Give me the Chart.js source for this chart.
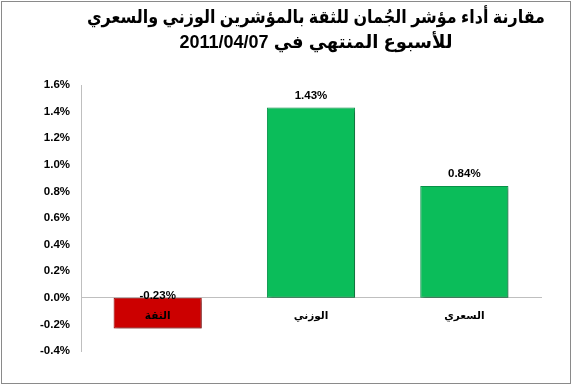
<!DOCTYPE html>
<html>
<head>
<meta charset="utf-8">
<script src="https://cdn.jsdelivr.net/npm/chart.js@4.4.0/dist/chart.umd.min.js"></script>
<style>
  html, body { margin: 0; padding: 0; background: #fff; }
  #wrap { width: 573px; height: 386px; }
</style>
</head>
<body>
<div id="wrap"><canvas id="perfChart" width="573" height="386"></canvas></div>
<script>
// chart data
const categories = ['الثقة', 'الوزني', 'السعري'];
const weeklyChange = [-0.23, 1.43, 0.84];
const titleLines = ['مقارنة أداء مؤشر الجُمان للثقة بالمؤشرين الوزني والسعري', 'للأسبوع المنتهي في 2011/04/07'];
const yMin = -0.4;
const yMax = 1.6;
const yStep = 0.2;

const numFont = '"Liberation Sans", Arial, sans-serif';
const arFont = '"Liberation Sans", "DejaVu Sans", Arial, sans-serif';

// white background, grey frame and the two title lines
const framePlugin = {
  id: 'frame',
  beforeDraw(chart) {
    const c = chart.ctx;
    c.save();
    c.fillStyle = '#fff';
    c.fillRect(0, 0, chart.width, chart.height);
    c.strokeStyle = '#8a8a8a';
    c.lineWidth = 1;
    c.strokeRect(1.5, 1.5, chart.width - 4, chart.height - 4);
    c.restore();
  },
  afterDraw(chart) {
    const c = chart.ctx;
    const maxW = [458, 282];
    c.save();
    c.direction = 'rtl';
    c.textAlign = 'center';
    c.textBaseline = 'middle';
    c.fillStyle = '#000';
    c.font = 'bold 18px ' + arFont;
    titleLines.forEach((line, i) => {
      c.fillText(line, 316, 18 + i * 25, maxW[i]);
    });
    c.restore();
  }
};

// drop shadow behind the bars
const shadowPlugin = {
  id: 'barShadow',
  beforeDatasetsDraw(chart) {
    const c = chart.ctx;
    c.save();
    c.shadowColor = 'rgba(0,0,0,0.4)';
    c.shadowBlur = 3;
    c.shadowOffsetX = 2;
    c.shadowOffsetY = 2;
  },
  afterDatasetsDraw(chart) {
    chart.ctx.restore();
  }
};

// value labels over the bars
const valueLabels = {
  id: 'valueLabels',
  afterDatasetsDraw(chart) {
    const c = chart.ctx;
    const meta = chart.getDatasetMeta(0);
    const zeroY = chart.scales.y.getPixelForValue(0);
    c.save();
    c.font = 'bold 11.5px ' + numFont;
    c.fillStyle = '#000';
    c.textAlign = 'center';
    c.textBaseline = 'middle';
    meta.data.forEach((bar, i) => {
      const v = weeklyChange[i];
      const y = v >= 0 ? bar.y - 12 : zeroY - 2;
      c.fillText(v.toFixed(2) + '%', bar.x, y);
    });
    c.restore();
  }
};

const ctx = document.getElementById('perfChart').getContext('2d');

const chart = new Chart(ctx, {
  type: 'bar',
  data: {
    labels: categories,
    datasets: [{
      data: weeklyChange,
      backgroundColor: (c) => (c.raw < 0 ? '#cc0000' : '#0bbd5a'),
      borderColor: (c) => (c.raw < 0 ? '#9b0000' : '#08944a'),
      borderWidth: 1,
      borderSkipped: false,
      barPercentage: 0.575,
      categoryPercentage: 1
    }]
  },
  options: {
    responsive: false,
    animation: false,
    layout: {
      padding: { top: 85, right: 32, bottom: 35, left: 0 }
    },
    plugins: {
      legend: { display: false },
      title: { display: false },
      tooltip: { enabled: false }
    },
    scales: {
      x: {
        position: { y: 0 },
        grid: { display: false, drawTicks: false },
        border: { display: true, color: '#bfbfbf', width: 1 },
        ticks: {
          z: 1,
          padding: 12,
          color: '#000',
          font: { family: '"DejaVu Sans", Arial, sans-serif', size: 10.5, weight: 'bold' }
        }
      },
      y: {
        min: yMin,
        max: yMax,
        afterFit(scale) { scale.width = 81; },
        grid: { display: false, drawTicks: false },
        border: { display: true, color: '#bfbfbf', width: 1 },
        ticks: {
          stepSize: yStep,
          padding: 11,
          color: '#000',
          font: { family: numFont, size: 11.5, weight: 'bold' },
          callback: (v) => v.toFixed(1) + '%'
        }
      }
    }
  },
  plugins: [framePlugin, shadowPlugin, valueLabels]
});
</script>
</body>
</html>
